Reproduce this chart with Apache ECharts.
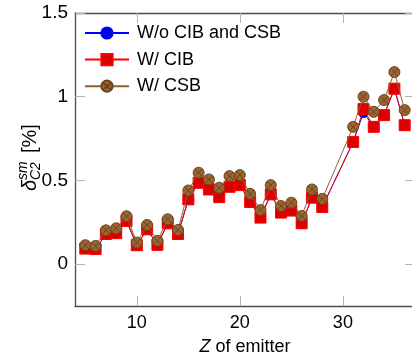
<!DOCTYPE html>
<html>
<head>
<meta charset="utf-8">
<script src="https://cdn.jsdelivr.net/npm/echarts@6/dist/echarts.min.js"></script>
<style>html,body{margin:0;padding:0;background:#fff}#c{width:412px;height:355px}</style>
</head>
<body>
<div id="c"></div>
<script>
var zValues = [5,6,7,8,9,10,11,12,13,14,15,16,17,18,19,20,21,22,23,24,25,26,27,28,31,32,33,34,35,36];
var woCibCsb = [0.093,0.090,0.180,0.185,0.258,0.113,0.208,0.115,0.244,0.180,0.387,0.486,0.446,0.400,0.462,0.472,0.371,0.278,0.417,0.308,0.320,0.244,0.397,0.341,0.730,0.905,0.820,0.890,1.048,0.830];
var wCib = [0.093,0.090,0.180,0.185,0.258,0.113,0.208,0.115,0.244,0.180,0.387,0.486,0.446,0.400,0.462,0.472,0.371,0.278,0.417,0.308,0.320,0.244,0.397,0.341,0.730,0.927,0.820,0.890,1.048,0.830];
var wCsb = [0.113,0.109,0.202,0.214,0.286,0.129,0.234,0.139,0.268,0.204,0.440,0.546,0.506,0.456,0.526,0.532,0.420,0.323,0.472,0.347,0.367,0.288,0.446,0.390,0.820,1.000,0.910,0.980,1.147,0.920];
var seriesNames = ['W/o CIB and CSB','W/ CIB','W/ CSB'];
var xTicks = [10,20,30];
var yTicks = [0,0.5,1,1.5];

function pairs(vals){ return zValues.map(function(z,i){ return [z, vals[i]]; }); }

var FONT = 'Liberation Sans, Arial, sans-serif';
var otimes = 'path://M0,-10A10,10 0 1,1 0,10A10,10 0 1,1 0,-10Z M-7.07,-7.07L7.07,7.07 M-7.07,7.07L7.07,-7.07';
var axisLineStyle = {color:'#4d4d4d', width:1.3};
var tickStyle = {color:'#b3b3b3', width:1};

var chart = echarts.init(document.getElementById('c'), null, {renderer:'canvas'});
chart.setOption({
  animation:false,
  backgroundColor:'#fff',
  grid:{left:75, top:13, right:-3, bottom:49, containLabel:false, outerBoundsMode:'none'},
  legend:{
    left:84, top:24, orient:'vertical', padding:0, itemWidth:44, itemHeight:14, itemGap:8.6,
    textStyle:{fontFamily:FONT, fontSize:18, color:'#000', padding:[0,0,0,3]},
    data:seriesNames
  },
  xAxis:[{
    type:'value', min:4, max:37, position:'bottom',
    axisLine:{onZero:false, lineStyle:axisLineStyle},
    axisTick:{inside:true, length:10, lineStyle:tickStyle, customValues:xTicks},
    axisLabel:{fontFamily:FONT, fontSize:18, color:'#000', margin:8, customValues:xTicks},
    splitLine:{show:false},
    name:'{i|Z} of emitter', nameLocation:'middle', nameGap:32,
    nameTextStyle:{fontFamily:FONT, fontSize:18, color:'#000', rich:{i:{fontFamily:FONT, fontSize:18, fontStyle:'italic', color:'#000'}}}
  },{
    type:'value', min:4, max:37, position:'top',
    axisLine:{onZero:false, lineStyle:axisLineStyle},
    axisTick:{inside:true, length:10, lineStyle:tickStyle, customValues:xTicks},
    axisLabel:{show:false}, splitLine:{show:false}
  }],
  yAxis:[{
    type:'value', min:-0.25, max:1.5, position:'left',
    axisLine:{show:true, onZero:false, lineStyle:axisLineStyle},
    axisTick:{show:true, inside:true, length:10, lineStyle:tickStyle, customValues:yTicks},
    axisLabel:{fontFamily:FONT, fontSize:19, color:'#000', margin:7, customValues:yTicks},
    splitLine:{show:false}
  },{
    type:'value', min:-0.25, max:1.5, position:'right',
    axisLine:{show:true, onZero:false, lineStyle:axisLineStyle},
    axisTick:{show:true, inside:true, length:10, lineStyle:tickStyle, customValues:yTicks},
    axisLabel:{show:false}, splitLine:{show:false}
  }],
  graphic:[{
    type:'group', x:30, y:191, rotation:Math.PI/2,
    children:[
      {type:'text', x:0, y:0, style:{text:'δ', font:'italic 20px '+FONT, fill:'#000', verticalAlign:'middle', align:'left'}},
      {type:'text', x:11, y:-7, style:{text:'sm', font:'italic 14px '+FONT, fill:'#000', verticalAlign:'middle', align:'left'}},
      {type:'text', x:11, y:6, style:{text:'C2', font:'italic 14px '+FONT, fill:'#000', verticalAlign:'middle', align:'left'}},
      {type:'text', x:38, y:0, style:{text:'[%]', font:'20px '+FONT, fill:'#000', verticalAlign:'middle', align:'left'}}
    ]
  }],
  series:[
    {name:seriesNames[0], type:'line', data:pairs(woCibCsb), symbol:'circle', symbolSize:10,
     lineStyle:{color:'#0000ff', width:1}, itemStyle:{color:'#0000e0', borderColor:'#0000ff', borderWidth:1}, z:2},
    {name:seriesNames[1], type:'line', data:pairs(wCib), symbol:'rect', symbolSize:11,
     lineStyle:{color:'#ff0000', width:1}, itemStyle:{color:'#dd0000', borderColor:'#ff0000', borderWidth:1}, z:3},
    {name:seriesNames[2], type:'line', data:pairs(wCsb), symbol:otimes, symbolSize:11,
     lineStyle:{color:'#8f5f32', width:1}, itemStyle:{color:'#9c6430', borderColor:'#6b4421', borderWidth:1}, z:4}
  ]
});
</script>
</body>
</html>
